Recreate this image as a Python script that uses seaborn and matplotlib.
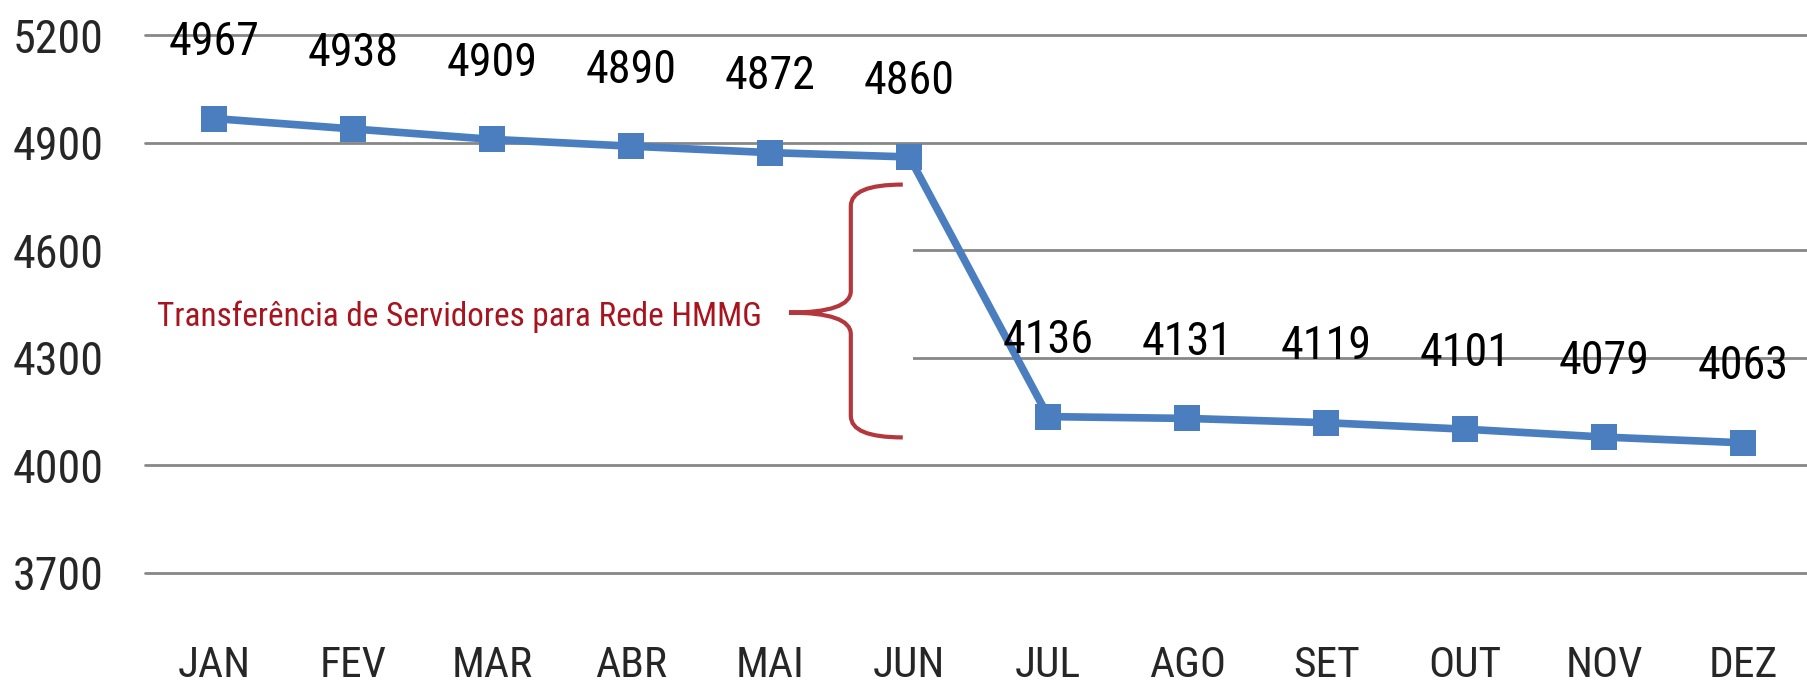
import numpy as np
import pandas as pd
import matplotlib
matplotlib.use('Agg')
import matplotlib.pyplot as plt
import matplotlib.font_manager as fm
from matplotlib.path import Path
from matplotlib.patches import PathPatch, Rectangle
import seaborn as sns

# Dados
meses = ['JAN', 'FEV', 'MAR', 'ABR', 'MAI', 'JUN', 'JUL', 'AGO', 'SET', 'OUT', 'NOV', 'DEZ']
servidores = [4967, 4938, 4909, 4890, 4872, 4860, 4136, 4131, 4119, 4101, 4079, 4063]
y_ticks = [3700, 4000, 4300, 4600, 4900, 5200]
nota = 'Transferência de Servidores para Rede HMMG'

df = pd.DataFrame({'mes': meses, 'servidores': servidores})

sns.set_style('white')


# fonte estreita (o original usa texto comprimido)
def acha_fonte():
    prefs = ['Open Sans Condensed', 'Roboto Condensed', 'Fira Sans Condensed',
             'PT Sans Narrow', 'Liberation Sans Narrow', 'Encode Sans Condensed']
    fontes = [f for f in fm.fontManager.ttflist
              if f.style == 'normal' and f.weight in (400, 'normal') and '[' not in f.fname]
    for p in prefs:
        for f in fontes:
            if f.name == p:
                return f.fname
    for f in fontes:
        if f.name == 'DejaVu Sans' and f.stretch == 'condensed':
            return f.fname
    return fm.findfont('DejaVu Sans')


arq_fonte = acha_fonte()


def fp(tam):
    return fm.FontProperties(fname=arq_fonte, size=tam)


azul = '#4A7EBF'
vermelho = '#A8141E'

fig = plt.figure(figsize=(18.08, 6.9), dpi=100)
ax = fig.add_axes([145 / 1808, 117 / 690, 1 - 145 / 1808, 573 / 690])

sns.lineplot(data=df, x='mes', y='servidores', sort=False, ax=ax,
             color=azul, linewidth=5.5, marker='s', markersize=19,
             markeredgewidth=0, zorder=3)

ax.set_xlim(-0.5, 11.467)
ax.set_ylim(3700, 5297.6)
ax.set_yticks(y_ticks)
ax.set_xticks(range(len(meses)))
ax.set_xticklabels(meses)
ax.set_xlabel('')
ax.set_ylabel('')
ax.tick_params(axis='y', length=0, pad=30)
ax.tick_params(axis='x', length=0, pad=52)
ax.grid(axis='y', color='#878787', linewidth=2)
ax.set_axisbelow(True)
for gl in ax.get_ygridlines():
    gl.set_clip_on(False)
for s in ax.spines.values():
    s.set_visible(False)

for lbl in ax.get_yticklabels():
    lbl.set_fontproperties(fp(30))
for lbl in ax.get_xticklabels():
    lbl.set_fontproperties(fp(30))

# rótulos de dados
rotulos = []
for i, v in enumerate(servidores):
    t = ax.annotate(str(v), (i, v), xytext=(0, 55), textcoords='offset points',
                    ha='center', va='center', fontproperties=fp(30),
                    color='black', zorder=4)
    rotulos.append(t)

# fundo branco da anotação (cobre as linhas de grade)
ax.add_patch(Rectangle((-0.56, 4044), 5.585, 4811 - 4044, facecolor='white',
                       edgecolor='none', zorder=1.5, clip_on=False))

# texto da anotação
txt = ax.text(-0.417, 4415, nota, ha='left', va='center', fontproperties=fp(30),
              color=vermelho, zorder=4)

# ajusta tamanhos pela largura medida no original
fig.canvas.draw()
r = fig.canvas.get_renderer()


def fator(obj, largura):
    return largura / obj.get_window_extent(r).width


k_y = fator(ax.get_yticklabels()[-1], 91)
for lbl in ax.get_yticklabels():
    lbl.set_fontsize(30 * k_y)
k_x = fator(ax.get_xticklabels()[0], 73)
for lbl in ax.get_xticklabels():
    lbl.set_fontsize(30 * k_x)
k_r = fator(rotulos[9], 91)
for t in rotulos:
    t.set_fontsize(30 * k_r)
txt.set_fontsize(30 * fator(txt, 605))

# chave
xt, xs, xa = 4.134, 4.579, 4.953
yt, ym, yb = 4783, 4426, 4078
verts = [(xa, yt), (xs, yt), (xs, yt - 60),
         (xs, ym + 60),
         (xs, ym), (xt, ym),
         (xs, ym), (xs, ym - 60),
         (xs, yb + 60),
         (xs, yb), (xa, yb)]
codes = [Path.MOVETO, Path.CURVE3, Path.CURVE3,
         Path.LINETO,
         Path.CURVE3, Path.CURVE3,
         Path.CURVE3, Path.CURVE3,
         Path.LINETO,
         Path.CURVE3, Path.CURVE3]
ax.add_patch(PathPatch(Path(verts, codes), facecolor='none', edgecolor='#B3373D',
                       linewidth=3, zorder=4))

fig.savefig('out.png', dpi=100)
